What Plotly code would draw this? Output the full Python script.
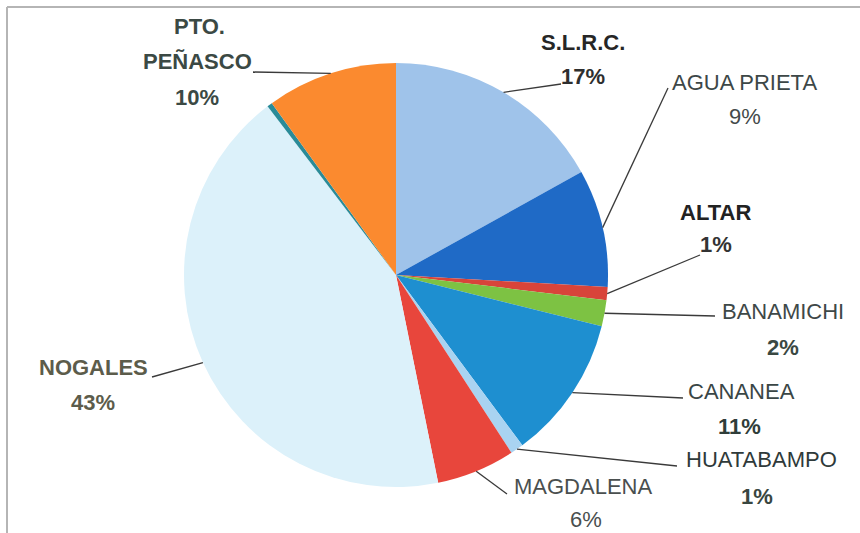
import math
import plotly.graph_objects as go

# ---- data ----
labels = ["S.L.R.C.", "AGUA PRIETA", "ALTAR", "BANAMICHI", "CANANEA",
          "HUATABAMPO", "MAGDALENA", "NOGALES", "", "PTO. PEÑASCO"]
values = [17, 9, 1, 2, 11, 1, 6, 43, 0.4, 10]
colors = ["#9fc3ea", "#1f6ac6", "#d8443a", "#7dc243", "#1e8fd0",
          "#a9d3f1", "#e8463c", "#dcf1fa", "#2a8b98", "#fb8a2f"]

# ---- layout of the picture (pixels) ----
W, H = 860, 533
CX, CY, R = 396, 275, 212

# label placement: name lines, pct line, end of leader line at the text side
label_layout = {
    "S.L.R.C.":     dict(lines=[("S.L.R.C.", 583, 42)], pct=(583, 76), end=(561, 84),
                         nb=True, pb=True, nc="#262626", pc="#2e2e2e"),
    "AGUA PRIETA":  dict(lines=[("AGUA PRIETA", 744, 82)], pct=(745, 117), end=(668, 88),
                         nb=False, pb=False, nc="#3d4747", pc="#444a4a"),
    "ALTAR":        dict(lines=[("ALTAR", 715, 212)], pct=(716, 245), end=(700, 255),
                         nb=True, pb=True, nc="#222222", pc="#333333"),
    "BANAMICHI":    dict(lines=[("BANAMICHI", 783, 311)], pct=(783, 347), end=(715, 316),
                         nb=False, pb=True, nc="#3e4848", pc="#3a4842"),
    "CANANEA":      dict(lines=[("CANANEA", 741, 391)], pct=(739, 426), end=(683, 398),
                         nb=False, pb=True, nc="#3a4646", pc="#2f3d39"),
    "HUATABAMPO":   dict(lines=[("HUATABAMPO", 761, 459)], pct=(757, 496), end=(677, 466),
                         nb=False, pb=True, nc="#2f3a3a", pc="#394640"),
    "MAGDALENA":    dict(lines=[("MAGDALENA", 583, 486)], pct=(586, 519), end=(507, 494),
                         nb=False, pb=False, nc="#4a4f4f", pc="#4a4f4f"),
    "NOGALES":      dict(lines=[("NOGALES", 93, 367)], pct=(93, 402), end=(152, 377),
                         nb=True, pb=True, nc="#5c5c4b", pc="#5c5c4b"),
    "PTO. PEÑASCO": dict(lines=[("PTO.", 199, 27), ("PEÑASCO", 197, 62)], pct=(197, 97),
                         end=(253, 72), nb=True, pb=True, nc="#3b4944", pc="#3b4944"),
}

FONT = "Liberation Sans, Arial, sans-serif"
FS = 22


def px(x):
    return x / W


def py(y):
    return 1 - y / H


fig = go.Figure(go.Pie(
    labels=labels, values=values, sort=False, direction="clockwise", rotation=0,
    marker=dict(colors=colors, line=dict(width=0)),
    textinfo="none", hoverinfo="label+percent", showlegend=False,
    domain=dict(x=[(CX - R) / W, (CX + R) / W], y=[(H - CY - R) / H, (H - CY + R) / H]),
))

total = sum(values)
cum = 0.0
shapes = []
annotations = []
for lab, v in zip(labels, values):
    mid = (cum + v / 2) / total
    cum += v
    if lab not in label_layout:
        continue
    L = label_layout[lab]
    th = 2 * math.pi * mid
    ex, ey = CX + R * math.sin(th), CY - R * math.cos(th)
    tx, ty = L["end"]
    shapes.append(dict(type="line", xref="paper", yref="paper",
                       x0=px(ex), y0=py(ey), x1=px(tx), y1=py(ty),
                       line=dict(color="#3a3a3a", width=1.3)))
    for txt, x, y in L["lines"]:
        t = f"<b>{txt}</b>" if L["nb"] else txt
        annotations.append(dict(text=t, x=px(x), y=py(y), xref="paper", yref="paper",
                                showarrow=False, xanchor="center", yanchor="middle",
                                font=dict(family=FONT, size=FS, color=L["nc"])))
    pct = f"{round(v / total * 100)}%"
    t = f"<b>{pct}</b>" if L["pb"] else pct
    annotations.append(dict(text=t, x=px(L["pct"][0]), y=py(L["pct"][1]), xref="paper",
                            yref="paper", showarrow=False, xanchor="center", yanchor="middle",
                            font=dict(family=FONT, size=FS, color=L["pc"])))

# chart frame (top and left edges visible)
shapes.append(dict(type="line", xref="paper", yref="paper", x0=px(7), y0=py(7), x1=1, y1=py(7),
                   line=dict(color="#b5b5b5", width=2)))
shapes.append(dict(type="line", xref="paper", yref="paper", x0=px(7), y0=py(7), x1=px(7), y1=0,
                   line=dict(color="#b5b5b5", width=2)))

fig.update_layout(width=W, height=H, margin=dict(l=0, r=0, t=0, b=0),
                  paper_bgcolor="white", plot_bgcolor="white",
                  shapes=shapes, annotations=annotations)

fig.write_html("out.html", config={"displayModeBar": False},
               post_script="document.body.style.margin='0';")
